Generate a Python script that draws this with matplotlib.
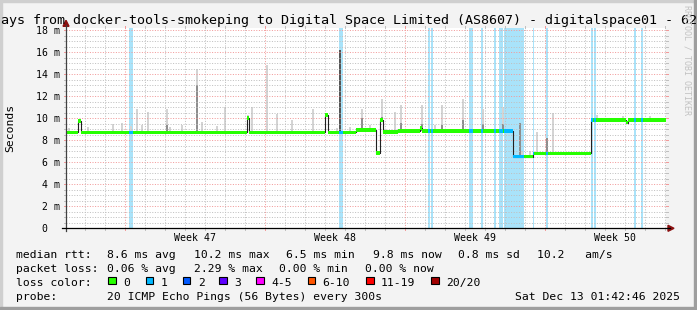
import datetime as dt
import numpy as np
import matplotlib
matplotlib.use("Agg")
import matplotlib.pyplot as plt
from matplotlib.lines import Line2D
from matplotlib.patches import Rectangle, Polygon

W, H = 697, 310
MONO = "DejaVu Sans Mono"

# ---- data: times are days since the start of the 30 day window ----
window_end = dt.datetime(2025, 12, 13, 1, 42, 46)
window_days = 30

median_t = [0.0, 0.615, 0.735, 9.065, 9.15, 12.95, 13.085, 14.475, 15.5, 15.715,
            15.835, 16.6, 17.7, 17.8, 22.325, 23.35, 26.235, 28.0, 28.075]
median_ms = [8.70, 9.72, 8.70, 10.0, 8.70, 10.3, 8.70, 8.90, 6.85, 9.83,
             8.72, 8.85, 9.10, 8.82, 6.50, 6.80, 9.83, 9.60, 9.83]

loss_start = [3.15, 13.65, 18.10, 18.25, 20.15, 20.75, 21.40, 21.625, 21.90,
              23.35, 24.00, 26.25, 26.40, 28.40, 28.75]
loss_end = [3.35, 13.85, 18.175, 18.35, 20.35, 20.85, 21.50, 21.85, 22.90,
            23.40, 24.10, 26.35, 26.50, 28.50, 28.85]

smoke_t = [0.15, 1.10, 2.35, 2.79, 3.25, 3.55, 3.80, 4.115, 5.04, 5.19, 5.775,
           6.525, 6.80, 7.55, 7.935, 9.10, 9.275, 10.04, 10.55, 11.285, 12.365,
           13.535, 14.20, 14.80, 15.20, 15.80, 16.425, 16.765, 17.80, 18.45,
           18.80, 19.85, 20.85, 21.85, 22.785, 23.20, 23.535, 24.365, 26.535,
           27.865, 29.20]
smoke_max = [9.07, 9.2, 9.5, 9.6, 9.3, 10.8, 9.37, 10.6, 10.8, 9.2, 9.37,
             14.5, 9.65, 9.3, 11.0, 10.3, 11.0, 14.8, 10.4, 9.83, 10.8,
             9.1, 9.2, 10.8, 9.37, 11.7, 10.6, 11.2, 11.2, 9.4,
             11.2, 11.7, 10.8, 11.0, 7.0, 7.0, 8.77, 10.5, 10.3,
             10.2, 10.2]

core_t = [5.04, 6.525, 14.80, 15.80, 16.765, 17.80, 18.80, 19.85, 20.85, 21.85,
          22.675, 24.05]
core_max = [9.4, 13.0, 10.0, 10.1, 9.6, 9.5, 9.4, 9.8, 9.5, 9.5, 9.58, 8.17]

dark_t = [13.715]
dark_max = [16.2]

rtt_avg, rtt_max, rtt_min, rtt_now, rtt_sd, rtt_ams = 8.6, 10.2, 6.5, 9.8, 0.8, 10.2
loss_avg, loss_max, loss_min, loss_now = 0.06, 2.29, 0.00, 0.00
loss_labels = ["0", "1", "2", "3", "4-5", "6-10", "11-19", "20/20"]
loss_colors = ["#26ff00", "#00b8ff", "#0059ff", "#5e00ff", "#ff00ff",
               "#ff5500", "#ff0000", "#a10000"]

title = "ays from docker-tools-smokeping to Digital Space Limited (AS8607) - digitalspace01 - 62"
probe_text = "20 ICMP Echo Pings (56 Bytes) every 300s"

# ---- layout (pixels) ----
X0, Y0 = 66.0, 228.3
PX_DAY, PX_MS = 20.0, 11.017
XS, YS = 600.0, 200.0
ymax = YS / PX_MS


def fx(x):
    return x / W


def fy(y):
    return 1 - y / H


fig = plt.figure(figsize=(W / 100, H / 100), dpi=100, facecolor="#f3f3f3")


def fline(xs, ys, **kw):
    fig.add_artist(Line2D([fx(v) for v in xs], [fy(v) for v in ys], **kw))


def ftext(x, y, s, **kw):
    kw.setdefault("family", MONO)
    kw.setdefault("fontsize", 8.2)
    kw.setdefault("va", "baseline")
    fig.text(fx(x), fy(y), s, **kw)


ax = fig.add_axes([fx(X0), fy(Y0), XS / W, YS / H])
ax.set_facecolor("white")
for s in ax.spines.values():
    s.set_visible(False)
ax.set_xticks([])
ax.set_yticks([])
ax.set_xlim(0, window_days)
ax.set_ylim(0, ymax)

# loss stripes
ax.bar(loss_start, ymax, width=np.array(loss_end) - np.array(loss_start),
       align="edge", color="#a9e3fa", linewidth=0, zorder=1)

# median lookup (step function)
mt = np.array(median_t)
mv = np.array(median_ms)


def med_at(t):
    idx = np.searchsorted(mt, np.asarray(t), side="right") - 1
    return mv[np.clip(idx, 0, len(mv) - 1)]


bw = 2 / PX_DAY
st = np.array(smoke_t)
ax.bar(st, np.array(smoke_max) - med_at(st), bottom=med_at(st), width=bw,
       color="#d4d4d4", linewidth=0, zorder=2)
ct = np.array(core_t)
ax.bar(ct, np.array(core_max) - med_at(ct), bottom=med_at(ct), width=bw,
       color="#8e8e8e", linewidth=0, zorder=2.1)
kt = np.array(dark_t)
ax.bar(kt, np.array(dark_max) - med_at(kt), bottom=med_at(kt), width=bw,
       color="#555555", linewidth=0, zorder=2.2)

# grid
start = window_end - dt.timedelta(days=window_days)
first_mid = dt.datetime(start.year, start.month, start.day) + dt.timedelta(days=1)
day_off = (first_mid - start).total_seconds() / 86400
grid_kw = dict(lw=0.72, ls=(0, (1, 1.6)), zorder=3)
minor_c, major_c = "#c0c0c0", "#f29a9a"
for k in range(int(ymax * 2) + 1):
    v = k * 0.5
    if v == 0:
        continue
    major = k % 4 == 0
    c = major_c if major else minor_c
    ax.axhline(v, color=c, **grid_kw)
    yp = Y0 - v * PX_MS
    fline([X0 - 2, X0], [yp, yp], color=c, lw=0.72)
    fline([X0 + XS, X0 + XS + 2], [yp, yp], color=c, lw=0.72)

week_lines = []
d = day_off
while d < window_days:
    day = start + dt.timedelta(days=d)
    major = day.weekday() == 6
    c = major_c if major else minor_c
    if major:
        week_lines.append(d)
    ax.axvline(d, color=c, **grid_kw)
    xp = X0 + d * PX_DAY
    fline([xp, xp], [Y0, Y0 + 2], color=c, lw=0.72)
    fline([xp, xp], [Y0 - YS - 2, Y0 - YS], color=c, lw=0.72)
    d += 1

# median line
t_edges = np.append(mt, window_days)
ax.step(t_edges, np.append(mv, mv[-1]), where="post", color="#202020",
        lw=0.8, zorder=4)

# coloured median band, split by loss periods
cuts = np.unique(np.concatenate([mt, loss_start, loss_end, [window_days]]))
seg_l, seg_r = cuts[:-1], cuts[1:]
mid = (seg_l + seg_r) / 2
lossy = np.zeros(len(mid), dtype=bool)
for a, b in zip(loss_start, loss_end):
    lossy |= (mid > a) & (mid < b)
half = 1.8 / PX_MS
cols = np.where(lossy, loss_colors[1], loss_colors[0])
ax.bar(seg_l, 2 * half, bottom=med_at(seg_l) - half, width=seg_r - seg_l,
       align="edge", color=cols, linewidth=0, zorder=5)

# axes with arrows
fline([X0, X0], [Y0 + 3, Y0 - YS - 3], color="#404040", lw=0.9)
fline([X0 - 4, X0 + XS + 4], [Y0, Y0], color="black", lw=0.9)
arrow_c = "#8b1010"
fig.add_artist(Polygon([(fx(X0 - 3), fy(Y0 - YS - 2)), (fx(X0 + 3), fy(Y0 - YS - 2)),
                        (fx(X0), fy(Y0 - YS - 8))], closed=True, color=arrow_c,
                       transform=fig.transFigure))
fig.add_artist(Polygon([(fx(X0 + XS + 2), fy(Y0 - 3)), (fx(X0 + XS + 2), fy(Y0 + 3)),
                        (fx(X0 + XS + 8), fy(Y0))], closed=True, color=arrow_c,
                       transform=fig.transFigure))

# y tick labels
for v in range(2, 19, 2):
    ftext(60, Y0 - v * PX_MS + 3.6, f"{v} m", ha="right", fontsize=7.1)
ftext(47, Y0 + 3.6, "0", ha="right", fontsize=7.1)

# week labels
for wl in week_lines:
    mid_day = start + dt.timedelta(days=wl + 3.5)
    ftext(X0 + (wl + 3.5) * PX_DAY, 240.7, f"Week {mid_day.isocalendar()[1]}",
          ha="center", fontsize=7.1)

# title, axis label, watermark
ftext(1, 23.8, title, fontsize=9.6)
fig.text(fx(10.5), fy(Y0 - YS / 2), "Seconds", rotation=90, family=MONO,
         fontsize=8.2, ha="center", va="center")
fig.text(fx(686.5), fy(60), "RRDTOOL / TOBI OETIKER", rotation=270, family=MONO,
         fontsize=6.0, color="#c2c2c2", ha="center", va="center")

# legend
r1, r2, r3, r4 = 257.8, 271.8, 285.8, 299.5
ftext(16, r1, "median rtt:")
ftext(107.3, r1, f"{rtt_avg:.1f} ms avg")
ftext(194, r1, f"{rtt_max:.1f} ms max")
ftext(286, r1, f"{rtt_min:.1f} ms min")
ftext(372.7, r1, f"{rtt_now:.1f} ms now")
ftext(458.5, r1, f"{rtt_sd:.1f} ms sd")
ftext(537, r1, f"{rtt_ams:.1f}   am/s")

ftext(16, r2, "packet loss:")
ftext(107.3, r2, f"{loss_avg:.2f} % avg")
ftext(194, r2, f"{loss_max:.2f} % max")
ftext(279.3, r2, f"{loss_min:.2f} % min")
ftext(365.3, r2, f"{loss_now:.2f} % now")

ftext(16, r3, "loss color:")
box_x = [108.3, 145.7, 182.7, 219.3, 256, 307.7, 366, 431]
for bx, lab, col in zip(box_x, loss_labels, loss_colors):
    fig.add_artist(Rectangle((fx(bx), fy(284)), 7.5 / W, 7.5 / H,
                             facecolor=col, edgecolor="black", lw=0.8,
                             transform=fig.transFigure))
    ftext(bx + 15, r3, lab)

ftext(16, r4, "probe:")
ftext(107.3, r4, probe_text)
ftext(680, r4, window_end.strftime("%a %b %d %H:%M:%S %Y"), ha="right")

# frame
fig.add_artist(Rectangle((0, fy(2)), 1, 2 / H, color="#cfcfcf", transform=fig.transFigure))
fig.add_artist(Rectangle((0, 0), 2 / W, 1, color="#cfcfcf", transform=fig.transFigure))
fig.add_artist(Rectangle((0, 0), 1, 3 / H, color="#9e9e9e", transform=fig.transFigure))
fig.add_artist(Rectangle((fx(694), 0), 3 / W, 1, color="#9e9e9e", transform=fig.transFigure))

fig.savefig("out.png", dpi=100, facecolor=fig.get_facecolor())
